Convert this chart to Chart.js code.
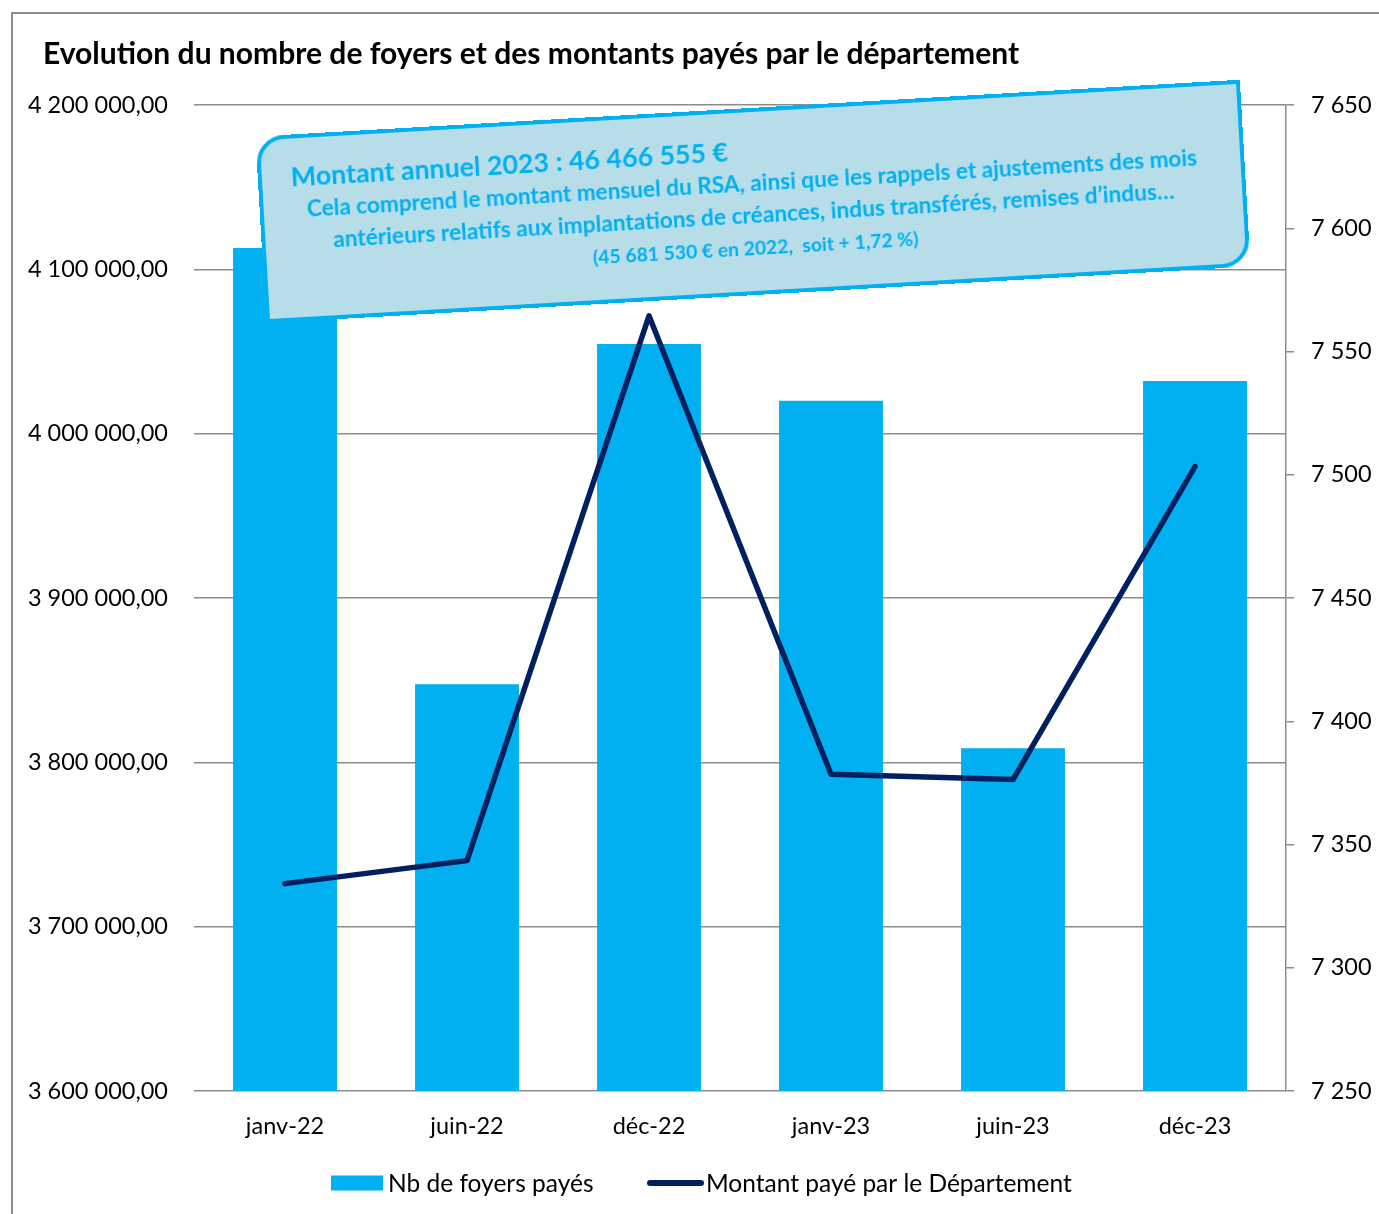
<!DOCTYPE html>
<html lang="fr"><head><meta charset="utf-8">
<script src="https://cdn.jsdelivr.net/npm/chart.js@4.4.1/dist/chart.umd.min.js"></script>
<style>
html,body{margin:0;padding:0;overflow:hidden;background:#fff;width:1379px;height:1214px}
#frame{position:absolute;left:11px;top:12px;width:1420px;height:1300px;border:2px solid #8c8c8c;box-sizing:border-box}
#wrap{position:absolute;left:0;top:0;width:1379px;height:1214px}
#title{position:absolute;left:43px;top:52px;transform:translateY(-50%);font-family:Lato;font-weight:bold;font-size:26px;color:#000;white-space:nowrap;line-height:1}
#note{position:absolute;left:260px;top:108px;width:986px;height:187px;box-sizing:border-box;background:#b7dee8;border:4px solid #00b0f0;border-radius:28px 0 28px 0;transform:rotate(-3.3deg);color:#00b0f0;font-family:Lato;font-weight:bold}
.l{position:absolute;white-space:nowrap;line-height:1}
</style></head>
<body>
<div id="frame"></div>
<div id="wrap"><canvas id="c" width="1379" height="1214"></canvas></div>
<div id="title" data-w="977">Evolution du nombre de foyers et des montants payés par le département</div>
<div id="note">
  <div class="l" id="n1" data-w="438" style="left:29px;top:38px;transform:translateY(-50%)">Montant annuel 2023 : 46 466 555 €</div>
  <div class="l" id="n2" data-w="892" style="left:50%;top:71px;transform:translate(-50%,-50%)">Cela comprend le montant mensuel du RSA, ainsi que les rappels et ajustements des mois</div>
  <div class="l" id="n3" data-w="843" style="left:50%;top:103px;transform:translate(-50%,-50%)">antérieurs relatifs aux implantations de créances, indus transférés, remises d’indus…</div>
  <div class="l" id="n4" data-w="326" style="left:50%;top:136px;transform:translate(-50%,-50%)">(45 681 530 € en 2022,&nbsp; soit + 1,72 %)</div>
</div>
<script>
// ---- data ----
const categories = ['janv-22', 'juin-22', 'déc-22', 'janv-23', 'juin-23', 'déc-23'];
const foyersPayes = [7592, 7415, 7553, 7530, 7389, 7538];
const montantPaye = [3726200, 3740200, 4071700, 3792800, 3789500, 3979900];
const leftTickValues = [3600000, 3700000, 3800000, 3900000, 4000000, 4100000, 4200000];
const rightTickValues = [7250, 7300, 7350, 7400, 7450, 7500, 7550, 7600, 7650];
const seriesLabels = ['Nb de foyers payés', 'Montant payé par le Département'];

// ---- fit text widths ----
const mctx = document.createElement('canvas').getContext('2d');
document.querySelectorAll('[data-w]').forEach(el => {
  const base = 20;
  mctx.font = 'bold ' + base + 'px Lato';
  const w = mctx.measureText(el.textContent.replace(/\u00a0/g, ' ')).width;
  el.style.fontSize = (base * (+el.dataset.w) / w).toFixed(2) + 'px';
});

function frNum(v, dec) {
  const s = Math.abs(v).toFixed(dec);
  const parts = s.split('.');
  const intp = parts[0].replace(/\B(?=(\d{3})+(?!\d))/g, ' ');
  return (v < 0 ? '-' : '') + intp + (dec ? ',' + parts[1] : '');
}

const GRID = '#8c8c8c';
const FONT = { family: 'Lato', size: 23.5 };

const legendPlugin = {
  id: 'customLegend',
  afterDraw(chart) {
    const ctx = chart.ctx;
    const ds = chart.data.datasets;
    const bar = ds.find(d => d.type === 'bar');
    const line = ds.find(d => d.type === 'line');
    const cy = 1183;
    ctx.save();
    ctx.font = '24.5px Lato';
    ctx.textBaseline = 'middle';
    ctx.fillStyle = bar.backgroundColor;
    ctx.fillRect(331, cy - 7.5, 52, 15);
    ctx.fillStyle = '#000';
    ctx.fillText(bar.label, 388, cy + 1);
    ctx.strokeStyle = line.borderColor;
    ctx.lineWidth = 6;
    ctx.lineCap = 'round';
    ctx.beginPath();
    ctx.moveTo(650, cy);
    ctx.lineTo(701, cy);
    ctx.stroke();
    ctx.fillText(line.label, 706, cy + 1);
    ctx.restore();
  }
};

new Chart(document.getElementById('c'), {
  data: {
    labels: categories,
    datasets: [
      {
        type: 'line', label: seriesLabels[1], data: montantPaye, yAxisID: 'y',
        borderColor: '#002060', borderWidth: 5.5, pointRadius: 0, tension: 0,
        borderCapStyle: 'round', borderJoinStyle: 'round', order: 1
      },
      {
        type: 'bar', label: seriesLabels[0], data: foyersPayes, yAxisID: 'y1',
        backgroundColor: '#00b0f0', borderWidth: 0,
        barPercentage: 0.571, categoryPercentage: 1, order: 2
      }
    ]
  },
  options: {
    responsive: false,
    animation: false,
    layout: { padding: { top: 105, left: 0, right: 0, bottom: 0 } },
    plugins: { legend: { display: false }, tooltip: { enabled: false }, title: { display: false } },
    scales: {
      x: {
        grid: { display: false, drawTicks: false },
        border: { display: false },
        ticks: { font: FONT, color: '#000', padding: 21, maxRotation: 0 },
        afterFit(s) { s.height = 123; }
      },
      y: {
        position: 'left', min: 3600000, max: 4200000,
        afterBuildTicks(s) { s.ticks = leftTickValues.map(v => ({ value: v })); },
        grid: { color: GRID, lineWidth: 1.5, drawTicks: false },
        border: { display: false },
        ticks: { font: FONT, color: '#000', padding: 26, callback: v => frNum(v, 2) },
        afterFit(s) { s.width = 194; }
      },
      y1: {
        position: 'right', min: 7250, max: 7650,
        afterBuildTicks(s) { s.ticks = rightTickValues.map(v => ({ value: v })); },
        grid: { drawOnChartArea: false, color: GRID, lineWidth: 1.5, drawTicks: true, tickLength: 8 },
        border: { display: true, color: GRID, width: 1.5 },
        ticks: { font: FONT, color: '#000', padding: 17, callback: v => frNum(v, 0) },
        afterFit(s) { s.width = 93; }
      }
    }
  },
  plugins: [legendPlugin]
});
</script>
</body></html>
